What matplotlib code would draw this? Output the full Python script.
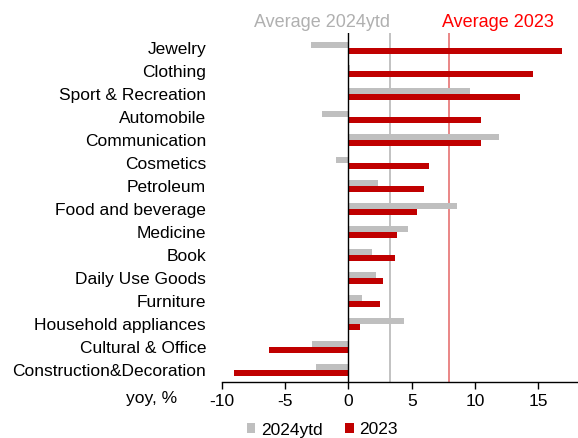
import matplotlib
matplotlib.use("Agg")
import matplotlib.pyplot as plt
import numpy as np

plt.rcParams['font.family'] = ['Liberation Sans', 'DejaVu Sans']

categories = ["Jewelry", "Clothing", "Sport & Recreation", "Automobile", "Communication",
              "Cosmetics", "Petroleum", "Food and beverage", "Medicine", "Book",
              "Daily Use Goods", "Furniture", "Household appliances", "Cultural & Office",
              "Construction&Decoration"]
ytd_2024 = [-3.0, 0.1, 9.6, -2.1, 11.9, -1.0, 2.3, 8.6, 4.7, 1.9, 2.2, 1.05, 4.4, -2.9, -2.6]
full_2023 = [16.9, 14.6, 13.6, 10.5, 10.5, 6.4, 6.0, 5.4, 3.8, 3.7, 2.75, 2.5, 0.95, -6.25, -9.05]
avg_2024ytd = 3.25
avg_2023 = 7.95
xticks = [-10, -5, 0, 5, 10, 15]

gray = "#bfbfbf"
red = "#c00000"
fs = 12.5

fig = plt.figure(figsize=(5.78, 4.38), dpi=100)
ax = fig.add_axes([222 / 578, 1 - 382 / 438, (578 - 222) / 578, (382 - 33) / 438])

n = len(categories)
y = np.arange(n)[::-1]
h = 0.28
off = 0.135
ax.barh(y + off, ytd_2024, height=h, color=gray, label="2024ytd", zorder=2)
ax.barh(y - off, full_2023, height=h, color=red, label="2023", zorder=2)

ax.axvline(avg_2024ytd, color="#b8b8b8", lw=1.2, zorder=1)
ax.axvline(avg_2023, color="#e46666", lw=1.1, zorder=1)
ax.axvline(0, color="black", lw=1.0, zorder=3)

ax.text(avg_2024ytd, 1.006, "Average 2024ytd", transform=ax.get_xaxis_transform(),
        ha="right", va="bottom", color="#b0b0b0", fontsize=13)
ax.text(avg_2023 - 0.55, 1.006, "Average 2023", transform=ax.get_xaxis_transform(),
        ha="left", va="bottom", color="#ff0000", fontsize=13)

ax.set_xlim(-10, 18.15)
ax.set_ylim(-0.52, n - 1 + 0.65)
ax.set_xticks(xticks)
ax.set_xticklabels([str(t) for t in xticks], fontsize=fs)
ax.set_yticks(y)
ax.set_yticklabels(categories, fontsize=fs)
ax.tick_params(axis="y", length=0, pad=11.5)
ax.tick_params(axis="x", direction="out", length=5, width=1, pad=4)

for side in ["top", "right", "left"]:
    ax.spines[side].set_visible(False)
ax.spines["bottom"].set_linewidth(1.0)

fig.text(152 / 578, 1 - 398 / 438, "yoy, %", ha="center", va="center", fontsize=fs)

fig.legend(loc="center", bbox_to_anchor=(322 / 578, 1 - 430 / 438), ncol=2, frameon=False,
           fontsize=fs, handlelength=0.5, handleheight=0.5, handletextpad=0.3,
           columnspacing=1.3)

fig.savefig("out.png", dpi=100)
